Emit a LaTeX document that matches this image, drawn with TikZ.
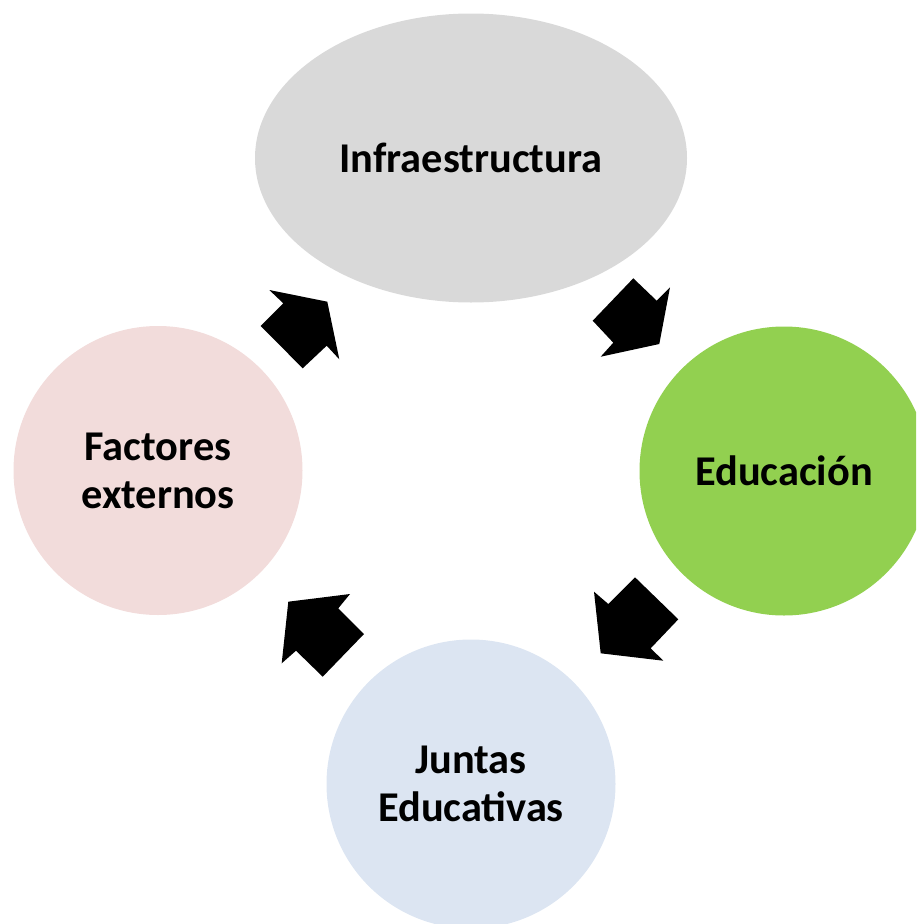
\documentclass[tikz,border=0pt]{standalone}
\usepackage{fontspec}
\setmainfont{Carlito}
\usetikzlibrary{shapes.geometric}
\definecolor{infrafill}{HTML}{D9D9D9}
\definecolor{edufill}{HTML}{92D050}
\definecolor{factfill}{HTML}{F2DCDB}
\definecolor{juntfill}{HTML}{DCE5F2}
\begin{document}
\begin{tikzpicture}[x=1pt,y=-1pt,
  labelfont/.style={font=\bfseries\fontsize{42.4}{48}\selectfont, text=black},
  bubble/.style={circle, minimum size=289pt, inner sep=0pt, align=center, labelfont},
  blockarrow/.style={fill=black}]
\useasboundingbox (0,0) rectangle (916,924);
\clip (0,0) rectangle (916,924);
\node[ellipse, fill=infrafill, minimum width=432pt, minimum height=289pt, inner sep=0pt,
  labelfont] (infra) at (471,158) {Infraestructura};
\node[bubble, fill=edufill] (edu) at (784,471) {Educación};
\node[bubble, fill=juntfill] (junt) at (471,784) {Juntas\\Educativas};
\node[bubble, fill=factfill] (fact) at (158,470.5) {Factores\\externos};
% block arrows
\fill[blockarrow] (633.3,278.3) -- (656.7,300.7) -- (670,287.3) -- (659.3,344) -- (600.7,356.7) -- (613.3,342.7) -- (592.7,320.7) -- cycle;
\fill[blockarrow] (594,591.7) -- (608.3,604) -- (635,577.3) -- (678.3,619.3) -- (650.7,648.3) -- (663.3,660.7) -- (600.7,653.3) -- cycle;
\fill[blockarrow] (288.3,601.7) -- (350,594) -- (338.3,608.3) -- (364,634) -- (322.7,676.7) -- (296,650.7) -- (281.7,663.3) -- cycle;
\fill[blockarrow] (269.3,290) -- (327.3,301.7) -- (339.3,359.3) -- (326.7,345.7) -- (302.7,368.3) -- (260.7,326) -- (283.3,303.3) -- cycle;
\end{tikzpicture}
\end{document}
